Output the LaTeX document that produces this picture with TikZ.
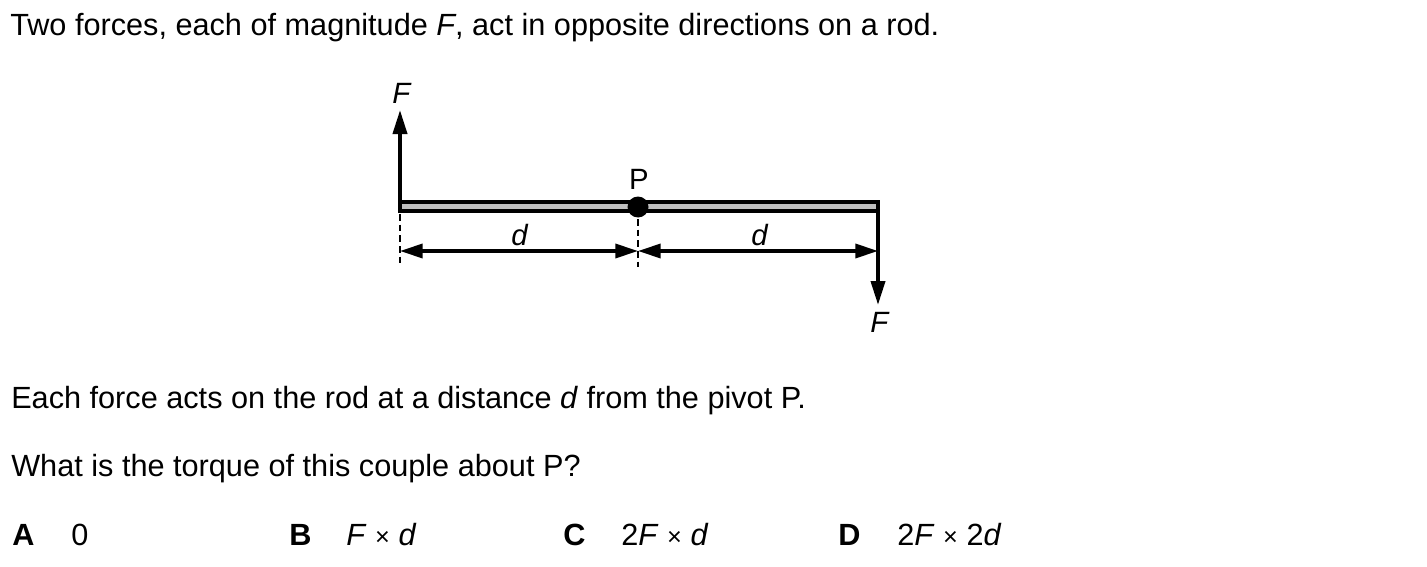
\documentclass[tikz,border=0pt]{standalone}
\usepackage{fontspec}
\setmainfont{Liberation Sans}
\usetikzlibrary{arrows.meta}
\newcommand{\tms}{\kern6.5pt{\fontsize{19}{22}\selectfont ×}\kern6.5pt}
\begin{document}
\begin{tikzpicture}[x=0.75pt,y=-0.75pt,
  txt/.style={anchor=base west,inner sep=0pt,font=\fontsize{23}{27}\selectfont},
  lbl/.style={inner sep=0pt,font=\fontsize{22}{26}\selectfont},
  thick line/.style={line width=2.8pt},
  tip/.style={-{Triangle[length=18pt,width=10.5pt]}},
  dimline/.style={line width=2.6pt,{Triangle[length=17pt,width=10.5pt]}-{Triangle[length=17pt,width=10.5pt]}},
  guide/.style={line width=0.8pt,dash pattern=on 5pt off 3pt}]
\useasboundingbox[fill=white] (0,0) rectangle (1427,567);
% texts
\node[txt] (t1) at (10,36) {Two forces, each of magnitude \textit{F}, act in opposite directions on a rod.};
\node[txt] (t2) at (11,408) {Each force acts on the rod at a distance \textit{d} from the pivot P.};
\node[txt] (t3) at (11,476) {What is the torque of this couple about P?};
\node[txt] (oA) at (12,545) {\textbf{A}};
\node[txt] (vA) at (71,545) {0};
\node[txt] (oB) at (289,545) {\textbf{B}};
\node[txt] (vB) at (346,545) {\textit{F}\tms\textit{d}};
\node[txt] (oC) at (563,545) {\textbf{C}};
\node[txt] (vC) at (621,545) {2\textit{F}\tms\textit{d}};
\node[txt] (oD) at (838,545) {\textbf{D}};
\node[txt] (vD) at (897,545) {2\textit{F}\tms2\textit{d}};
% geometry
\coordinate (Ltop) at (400,201.5);
\coordinate (Rbot) at (878,211.5);
\coordinate (Lup) at (400,110);
\coordinate (Rdown) at (878,305);
\coordinate (Pc) at (638,207);
\coordinate (D1) at (400,251);
\coordinate (D2) at (638,251);
\coordinate (D3) at (878,251);
% rod
\draw[thick line,fill=black!25] (400,202) rectangle (878,211);
% forces
\draw[thick line,tip] (Ltop) -- (Lup);
\draw[thick line,tip] (Rbot) -- (Rdown);
% guides
\draw[guide] (400,214) -- (400,267);
\draw[guide] (638,219) -- (638,267);
% dimension lines
\draw[dimline] (D1) -- (D2);
\draw[dimline] (D2) -- (D3);
% pivot
\fill (Pc) circle (10.5);
% labels
\node[lbl] (F1) at (402,93) {\textit{F}};
\node[lbl] (F2) at (880,322) {\textit{F}};
\node[lbl] (P) at (639,179) {P};
\node[lbl] (d1) at (520,235) {\textit{d}};
\node[lbl] (d2) at (760,235) {\textit{d}};
\end{tikzpicture}
\end{document}
